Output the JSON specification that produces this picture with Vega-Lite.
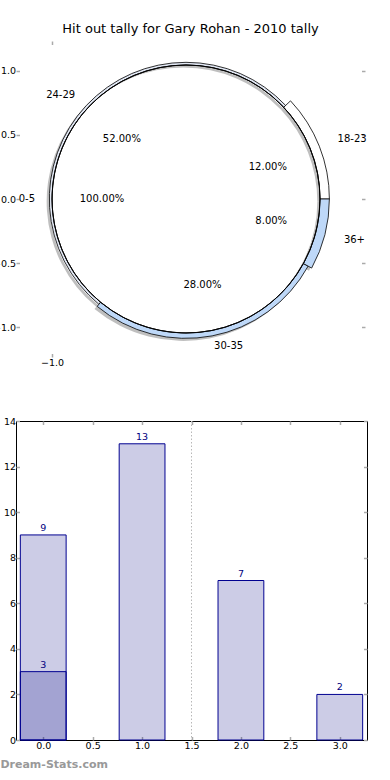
{
  "$schema": "https://vega.github.io/schema/vega-lite/v6.json",
  "background": "white",
  "padding": {"left": -8, "top": 23, "right": 0, "bottom": 0},
  "title": {"text": "Dream-Stats.com", "orient": "bottom", "anchor": "start", "color": "#999999", "fontSize": 11, "font": "DejaVu Sans", "fontWeight": "bold", "offset": 8, "dx": 8},
  "config": {
    "font": "DejaVu Sans",
    "axis": {"grid": false, "domain": false, "labelFont": "DejaVu Sans", "labelFontSize": 9.5, "labelColor": "#000000", "tickColor": "#aaaaaa", "tickSize": -3.5, "tickWidth": 1.5, "labelPadding": 4, "title": null},
    "concat": {"spacing": 48}
  },
  "datasets": {
    "ages": [
      {"age": "18-23", "hitouts": 3, "share": 0.12, "explode": 0.07, "rank": 1},
      {"age": "24-29", "hitouts": 13, "share": 0.52, "explode": 0.02, "rank": 2},
      {"age": "30-35", "hitouts": 7, "share": 0.28, "explode": 0.04, "rank": 3},
      {"age": "36+", "hitouts": 2, "share": 0.08, "explode": 0.07, "rank": 4}
    ],
    "young": [
      {"age": "0-5", "hitouts": 9, "share": 1.0, "explode": 0, "rank": 1}
    ],
    "bars": [
      {"pos": 0, "tally": 9, "series": "a"},
      {"pos": 1, "tally": 13, "series": "a"},
      {"pos": 2, "tally": 7, "series": "a"},
      {"pos": 3, "tally": 2, "series": "a"},
      {"pos": 0, "tally": 3, "series": "b"}
    ],
    "split": [{"boundary": 1.5}]
  },
  "vconcat": [
    {
      "width": 349,
      "height": 316,
      "title": {"text": "Hit out tally for Gary Rohan - 2010 tally", "fontSize": 13, "fontWeight": "normal", "font": "DejaVu Sans", "color": "#000000", "anchor": "middle", "offset": 4},
      "view": {"stroke": null},
      "resolve": {"axis": {"x": "independent", "y": "independent"}},
      "layer": [
        {
          "data": {"name": "ages"},
          "transform": [{"stack": "share", "groupby": [], "sort": [{"field": "rank", "order": "ascending"}], "as": ["a0", "a1"]}],
          "mark": {"type": "arc", "color": "#808080", "opacity": 0.5},
          "encoding": {
            "x": {"datum": -0.02, "type": "quantitative", "scale": {"domain": [-1.2687, 1.3358], "nice": false, "zero": false}, "axis": {"orient": "bottom", "values": [-1], "format": ".1f"}},
            "y": {"datum": -0.02, "type": "quantitative", "scale": {"domain": [-1.234, 1.234], "nice": false, "zero": false}, "axis": {"orient": "left", "values": [-1, -0.5, 0, 0.5, 1], "format": ".1f"}},
            "theta": {"field": "a0", "type": "quantitative", "stack": null, "scale": {"domain": [0, 1], "range": [1.5707963268, -4.7123889804]}},
            "theta2": {"field": "a1"},
            "radius": {"field": "explode", "type": "quantitative", "scale": {"type": "linear", "zero": false, "domain": [-1, 0.2], "range": [0, 160.8]}}
          }
        },
        {
          "data": {"name": "ages"},
          "transform": [{"stack": "share", "groupby": [], "sort": [{"field": "rank", "order": "ascending"}], "as": ["a0", "a1"]}],
          "mark": {"type": "arc", "stroke": "#000000", "strokeWidth": 0.8},
          "encoding": {
            "x": {"datum": 0, "type": "quantitative", "axis": {"orient": "top", "values": [-1], "labels": false}},
            "y": {"datum": 0, "type": "quantitative", "axis": {"orient": "right", "values": [-1, -0.5, 0, 0.5, 1], "labels": false}},
            "theta": {"field": "a0", "type": "quantitative", "stack": null, "scale": {"domain": [0, 1], "range": [1.5707963268, -4.7123889804]}},
            "theta2": {"field": "a1"},
            "radius": {"field": "explode", "type": "quantitative"},
            "color": {"field": "age", "type": "nominal", "legend": null, "scale": {"domain": ["0-5", "18-23", "24-29", "30-35", "36+"], "range": ["#ffffff", "#ffffff", "#e2e8f4", "#bed8f8", "#bed8f8"]}}
          }
        },
        {
          "data": {"name": "young"},
          "transform": [{"stack": "share", "groupby": [], "sort": [{"field": "rank", "order": "ascending"}], "as": ["a0", "a1"]}],
          "mark": {"type": "arc", "color": "#808080", "opacity": 0.5},
          "encoding": {
            "x": {"datum": -0.02, "type": "quantitative", "axis": null},
            "y": {"datum": -0.02, "type": "quantitative", "axis": null},
            "theta": {"field": "a0", "type": "quantitative", "stack": null},
            "theta2": {"field": "a1"},
            "radius": {"field": "explode", "type": "quantitative"}
          }
        },
        {
          "data": {"name": "young"},
          "transform": [{"stack": "share", "groupby": [], "sort": [{"field": "rank", "order": "ascending"}], "as": ["a0", "a1"]}],
          "mark": {"type": "arc", "stroke": "#000000", "strokeWidth": 0.8},
          "encoding": {
            "x": {"datum": 0, "type": "quantitative", "axis": null},
            "y": {"datum": 0, "type": "quantitative", "axis": null},
            "theta": {"field": "a0", "type": "quantitative", "stack": null},
            "theta2": {"field": "a1"},
            "radius": {"field": "explode", "type": "quantitative"},
            "color": {"field": "age", "type": "nominal", "legend": null}
          }
        },
        {
          "data": {"name": "ages"},
          "mark": {"type": "text", "radius": 163, "align": "left", "baseline": "middle", "fontSize": 10, "font": "DejaVu Sans", "color": "#000000"},
          "encoding": {
            "x": {"datum": 0, "type": "quantitative", "axis": null},
            "y": {"datum": 0, "type": "quantitative", "axis": null},
            "theta": {"field": "share", "type": "quantitative", "stack": true},
            "order": {"field": "rank", "type": "quantitative"},
            "text": {"condition": {"test": "datum.age === '18-23' || datum.age === '36+'", "field": "age", "type": "nominal"}, "value": ""}
          }
        },
        {
          "data": {"name": "ages"},
          "mark": {"type": "text", "radius": 150, "align": "left", "baseline": "middle", "fontSize": 10, "font": "DejaVu Sans", "color": "#000000"},
          "encoding": {
            "x": {"datum": 0, "type": "quantitative", "axis": null},
            "y": {"datum": 0, "type": "quantitative", "axis": null},
            "theta": {"field": "share", "type": "quantitative", "stack": true},
            "order": {"field": "rank", "type": "quantitative"},
            "text": {"condition": {"test": "datum.age === '30-35'", "field": "age", "type": "nominal"}, "value": ""}
          }
        },
        {
          "data": {"name": "ages"},
          "mark": {"type": "text", "radius": 152, "align": "right", "baseline": "middle", "fontSize": 10, "font": "DejaVu Sans", "color": "#000000"},
          "encoding": {
            "x": {"datum": 0, "type": "quantitative", "axis": null},
            "y": {"datum": 0, "type": "quantitative", "axis": null},
            "theta": {"field": "share", "type": "quantitative", "stack": true},
            "order": {"field": "rank", "type": "quantitative"},
            "text": {"condition": {"test": "datum.age === '24-29'", "field": "age", "type": "nominal"}, "value": ""}
          }
        },
        {
          "data": {"name": "ages"},
          "mark": {"type": "text", "radius": 88, "align": "center", "baseline": "middle", "fontSize": 10, "font": "DejaVu Sans", "color": "#000000"},
          "encoding": {
            "x": {"datum": 0, "type": "quantitative", "axis": null},
            "y": {"datum": 0, "type": "quantitative", "axis": null},
            "theta": {"field": "share", "type": "quantitative", "stack": true},
            "order": {"field": "rank", "type": "quantitative"},
            "text": {"field": "share", "type": "quantitative", "format": ".2%"}
          }
        },
        {
          "data": {"name": "young"},
          "mark": {"type": "text", "radius": 151, "align": "right", "baseline": "middle", "fontSize": 10, "font": "DejaVu Sans", "color": "#000000"},
          "encoding": {
            "x": {"datum": 0, "type": "quantitative", "axis": null},
            "y": {"datum": 0, "type": "quantitative", "axis": null},
            "theta": {"field": "share", "type": "quantitative", "stack": true},
            "text": {"field": "age", "type": "nominal"}
          }
        },
        {
          "data": {"name": "young"},
          "mark": {"type": "text", "radius": 84, "align": "center", "baseline": "middle", "fontSize": 10, "font": "DejaVu Sans", "color": "#000000"},
          "encoding": {
            "x": {"datum": 0, "type": "quantitative", "axis": null},
            "y": {"datum": 0, "type": "quantitative", "axis": null},
            "theta": {"field": "share", "type": "quantitative", "stack": true},
            "text": {"field": "share", "type": "quantitative", "format": ".2%"}
          }
        }
      ]
    },
    {
      "width": 351,
      "height": 319,
      "view": {"stroke": "#000000", "strokeWidth": 1},
      "resolve": {"axis": {"x": "independent", "y": "independent"}},
      "layer": [
        {
          "data": {"name": "split"},
          "mark": {"type": "rule", "color": "#b8b8b8", "strokeDash": [1.5, 2], "strokeWidth": 1},
          "encoding": {
            "x": {"field": "boundary", "type": "quantitative", "scale": {"domain": [-0.225, 3.225], "nice": false, "zero": false}, "axis": {"orient": "bottom", "values": [0, 0.5, 1, 1.5, 2, 2.5, 3], "format": ".1f"}}
          }
        },
        {
          "data": {"name": "bars"},
          "mark": {"type": "bar", "color": "#000080", "fillOpacity": 0.2, "stroke": "#000090", "strokeWidth": 1, "width": 45.8},
          "encoding": {
            "x": {"field": "pos", "type": "quantitative", "axis": {"orient": "top", "values": [0, 0.5, 1, 1.5, 2, 2.5, 3], "labels": false}},
            "y": {"field": "tally", "type": "quantitative", "stack": null, "scale": {"domain": [0, 14], "nice": false}, "axis": {"orient": "left", "values": [0, 2, 4, 6, 8, 10, 12, 14]}}
          }
        },
        {
          "data": {"name": "bars"},
          "mark": {"type": "text", "color": "#000080", "fontSize": 9.5, "font": "DejaVu Sans", "baseline": "alphabetic", "align": "center", "dy": -4},
          "encoding": {
            "x": {"field": "pos", "type": "quantitative", "axis": null},
            "y": {"field": "tally", "type": "quantitative", "stack": null, "axis": {"orient": "right", "values": [0, 2, 4, 6, 8, 10, 12, 14], "labels": false}},
            "text": {"field": "tally", "type": "quantitative"}
          }
        }
      ]
    }
  ]
}
